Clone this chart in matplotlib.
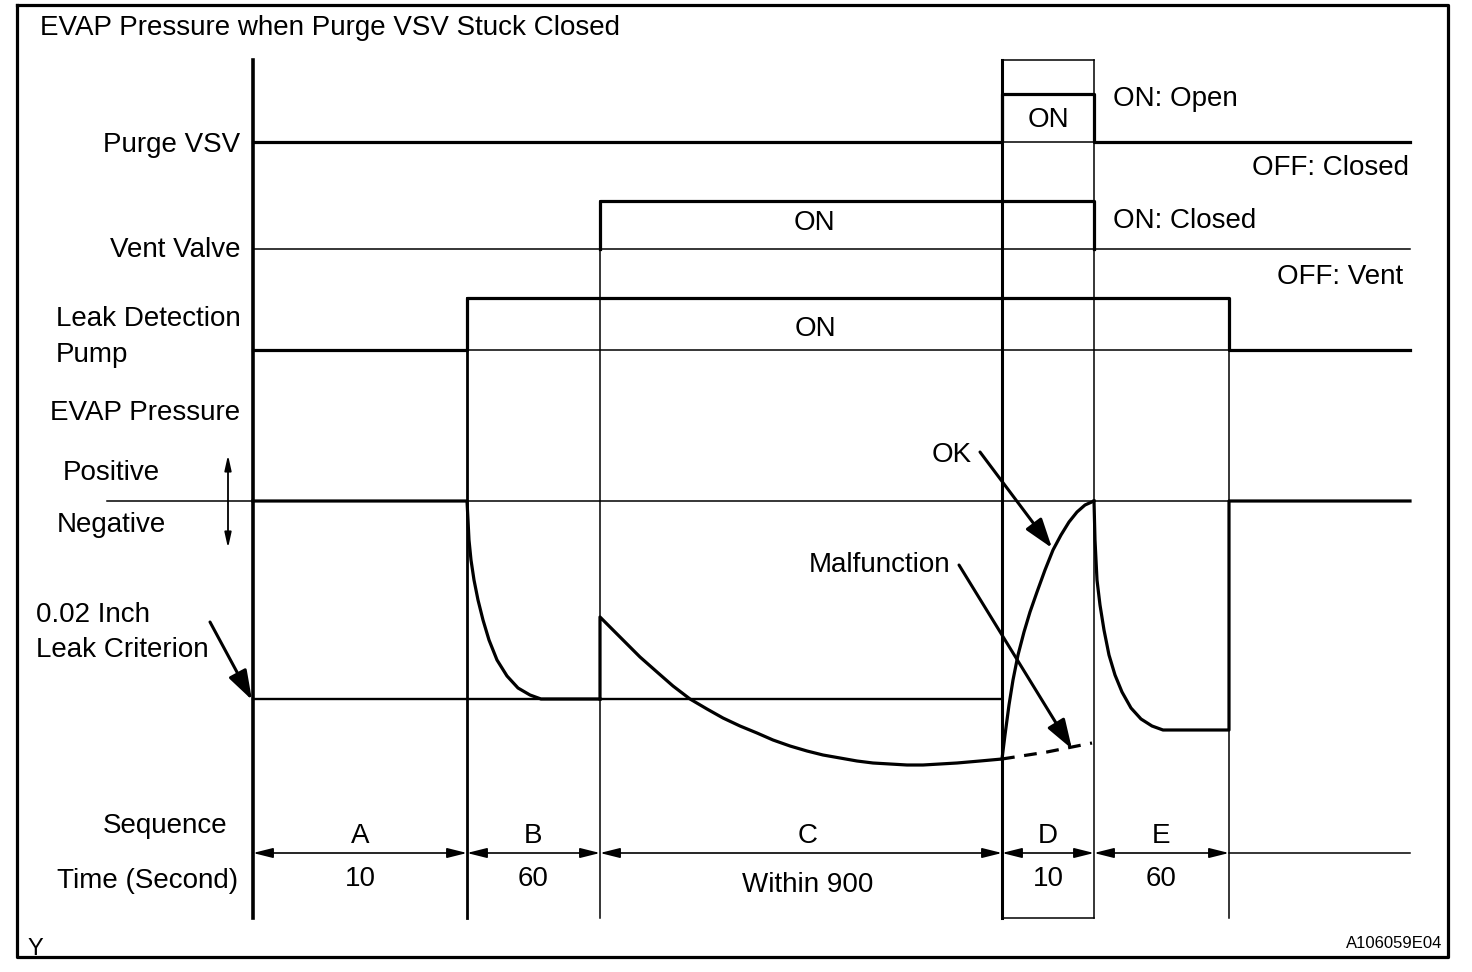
import matplotlib
matplotlib.use("Agg")
import matplotlib.pyplot as plt

plt.rcParams['font.family'] = ['Liberation Sans', 'DejaVu Sans']

# phase boundaries (diagram units = pixels of the original sheet)
phase_edges = [253, 467, 600, 1002, 1094, 1229]
sequence_labels = ['A', 'B', 'C', 'D', 'E']
sequence_times = ['10', '60', 'Within 900', '10', '60']

# signal levels
purge_off, purge_on = 142, 94
vent_off, vent_on = 249, 201
pump_off, pump_on = 350, 298
press_zero, press_crit = 501, 699
line_end = 1410

# EVAP pressure
decay_b_x = [467, 468, 469, 471, 474, 478, 483, 489, 497, 507, 518, 530, 541, 600]
decay_b_y = [501, 520, 540, 560, 580, 600, 620, 640, 660, 676, 688, 695, 699, 699]
phase_c_x = [600, 600, 612, 623, 640, 657, 673, 690, 707, 723, 740, 757, 773, 790,
             807, 823, 840, 857, 873, 890, 907, 923, 940, 957, 980, 1002]
phase_c_y = [699, 617, 629, 640, 657, 672, 686, 699, 709, 718, 726, 733, 740, 746,
             751, 755, 758, 761, 763, 764, 765, 765, 764, 763, 761, 759]
ok_x = [1002, 1005, 1009, 1013, 1018, 1024, 1030, 1037, 1045, 1053, 1061, 1069, 1077, 1085, 1094]
ok_y = [759, 735, 705, 680, 655, 632, 612, 592, 570, 550, 535, 522, 512, 505, 501]
fault_x = [1002, 1047, 1092]
fault_y = [759, 752, 743]
decay_e_x = [1094, 1095, 1097, 1100, 1104, 1109, 1115, 1122, 1131, 1141, 1152, 1163,
             1229, 1229, line_end]
decay_e_y = [501, 540, 580, 605, 630, 655, 675, 692, 708, 719, 726, 730,
             730, 501, 501]

fig = plt.figure(figsize=(14.72, 9.72), dpi=100)
ax = fig.add_axes([0, 0, 1, 1])
ax.set_xlim(0, 1472)
ax.set_ylim(972, 0)
ax.axis('off')

K = 'black'
thick = 2.3
thin = 1.1

# outer frame
ax.plot([17, 1448, 1448, 17, 17], [5, 5, 957, 957, 5], color=K, lw=2.3)

# vertical guides
ax.plot([253, 253], [60, 918], color=K, lw=2.6)
ax.plot([467, 467], [pump_on, 918], color=K, lw=2.0)
ax.plot([600, 600], [vent_on, 918], color=K, lw=thin)
ax.plot([1002, 1002], [60, 918], color=K, lw=2.2)
ax.plot([1094, 1094], [60, 918], color=K, lw=thin)
ax.plot([1229, 1229], [pump_on, 918], color=K, lw=thin)
ax.plot([1002, 1094], [60, 60], color=K, lw=thin)
ax.plot([1002, 1094], [918, 918], color=K, lw=thin)

# purge VSV
ax.plot([253, 1002, 1002, 1094, 1094, line_end],
        [purge_off, purge_off, purge_on, purge_on, purge_off, purge_off], color=K, lw=thick)
ax.plot([1002, 1094], [purge_off, purge_off], color=K, lw=thin)

# vent valve
ax.plot([253, line_end], [vent_off, vent_off], color=K, lw=thin)
ax.plot([600, 600, 1094, 1094], [vent_off, vent_on, vent_on, vent_off], color=K, lw=thick)

# leak detection pump
ax.plot([253, 467, 467, 1229, 1229, line_end],
        [pump_off, pump_off, pump_on, pump_on, pump_off, pump_off], color=K, lw=thick)
ax.plot([467, 1229], [pump_off, pump_off], color=K, lw=thin)

# EVAP pressure
ax.plot([107, line_end], [press_zero, press_zero], color=K, lw=thin)
ax.plot([253, 1002], [press_crit, press_crit], color=K, lw=1.7)
ax.plot([253] + decay_b_x, [press_zero] + decay_b_y, color=K, lw=thick)
ax.plot(phase_c_x, phase_c_y, color=K, lw=thick)
ax.plot(ok_x, ok_y, color=K, lw=thick)
ax.plot(fault_x, fault_y, color=K, lw=thick, dashes=(4, 3))
ax.plot(decay_e_x, decay_e_y, color=K, lw=thick)

# positive / negative arrow
ax.annotate('', xy=(228, 455), xytext=(228, 548),
            arrowprops=dict(arrowstyle='<|-|>,head_width=0.2,head_length=0.9',
                            color=K, lw=1.3, shrinkA=0, shrinkB=0))

# callout arrows
callouts = [((210, 622), (252, 700)), ((980, 452), (1052, 548)), ((959, 565), (1072, 749))]
for start, end in callouts:
    ax.annotate('', xy=end, xytext=start,
                arrowprops=dict(arrowstyle='-|>,head_width=0.3,head_length=0.9',
                                color=K, lw=2.2, shrinkA=0, shrinkB=0, mutation_scale=20))

# sequence dimension arrows
for i in range(len(sequence_labels)):
    x0, x1 = phase_edges[i], phase_edges[i + 1]
    ax.annotate('', xy=(x1, 853), xytext=(x0, 853),
                arrowprops=dict(arrowstyle='<|-|>,head_width=0.25,head_length=1.0',
                                color=K, lw=1.2, shrinkA=0, shrinkB=0, mutation_scale=12))
    xm = (x0 + x1) / 2
    if sequence_labels[i] == 'C':
        xm += 7
    ax.text(xm, 843, sequence_labels[i], fontsize=20, ha='center', va='baseline')
    ax.text(xm, 886 if i != 2 else 892, sequence_times[i], fontsize=20, ha='center', va='baseline')
ax.plot([1229, line_end], [853, 853], color=K, lw=thin)

fs = 20
texts = [
    (40, 35, 'EVAP Pressure when Purge VSV Stuck Closed', 'left'),
    (240, 152, 'Purge VSV', 'right'),
    (240, 257, 'Vent Valve', 'right'),
    (56, 326, 'Leak Detection', 'left'),
    (56, 362, 'Pump', 'left'),
    (50, 420, 'EVAP Pressure', 'left'),
    (63, 480, 'Positive', 'left'),
    (57, 532, 'Negative', 'left'),
    (36, 622, '0.02 Inch', 'left'),
    (36, 657, 'Leak Criterion', 'left'),
    (103, 833, 'Sequence', 'left'),
    (57, 888, 'Time (Second)', 'left'),
    (1048, 127, 'ON', 'center'),
    (814, 230, 'ON', 'center'),
    (815, 336, 'ON', 'center'),
    (1113, 106, 'ON: Open', 'left'),
    (1409, 175, 'OFF: Closed', 'right'),
    (1113, 228, 'ON: Closed', 'left'),
    (1403, 284, 'OFF: Vent', 'right'),
    (952, 462, 'OK', 'center'),
    (880, 572, 'Malfunction', 'center'),
]
for x, y, s, ha in texts:
    ax.text(x, y, s, fontsize=fs, ha=ha, va='baseline')

ax.text(27, 955, 'Y', fontsize=17, ha='left', va='baseline')
ax.text(1442, 948, 'A106059E04', fontsize=12, ha='right', va='baseline')

fig.savefig('out.png', dpi=100)
